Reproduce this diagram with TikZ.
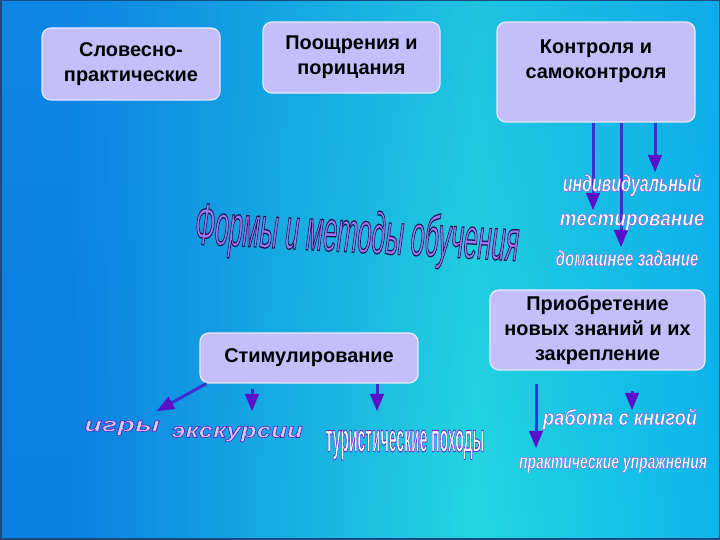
\documentclass[tikz,border=0pt]{standalone}
\usepackage{fontspec}
\setmainfont{Liberation Sans}
\usetikzlibrary{positioning,arrows.meta,fadings}

\definecolor{fonA}{HTML}{0A80E4}
\definecolor{fonB}{HTML}{24D8E0}
\definecolor{fonC}{HTML}{0CB6EC}
\definecolor{fonverh}{HTML}{1294E2}
\definecolor{ramka}{HTML}{1A4A80}
\definecolor{lavanda}{HTML}{C4BFFB}
\definecolor{liniya}{HTML}{3A30D0}
\definecolor{nakonech}{HTML}{5A10C8}
\definecolor{sirenevy}{HTML}{A074F2}
\definecolor{kraska}{HTML}{D4CCFF}

\pgfdeclarehorizontalshading{fon}{100bp}{color(0bp)=(fonA); color(25bp)=(fonA); color(30bp)=(fonA); color(58bp)=(fonB); color(75bp)=(fonC); color(100bp)=(fonC)}

% outlined letters: fill + stroke
\newcommand{\obvod}[3]{\special{pdf:literal direct 2 Tr #2 w #1 RG}#3\special{pdf:literal direct 0 Tr}}

\tikzset{
  blok/.style={draw=white!65!lavanda, line width=1.2bp, fill=lavanda, rounded corners=9bp,
    align=center, inner sep=0pt, font=\bfseries\fontsize{20}{25}\selectfont},
  strelka/.style={draw=liniya, line width=3bp,
    -{Triangle[width=14bp,length=17bp,line width=0.5bp,color=nakonech]}},
  otvet/.style={font=\bfseries\itshape\fontsize{20}{22}\selectfont, text=white}
}

\begin{document}
\begin{tikzpicture}[x=1bp,y=1bp]
    % background
    \shade[shading=fon] (0,0) rectangle (720,540);
    \fill[fonverh, path fading=south, fill opacity=0.3] (0,0) rectangle (720,540);
    \draw[ramka, line width=1.5bp] (0.75,0.75) rectangle (719.25,539.25);

    % boxes
    \node[blok, minimum width=178bp, minimum height=72bp] (slovesno) at (131,476) {Словесно-\\практические};
    \node[blok, minimum width=177bp, minimum height=71bp] (poosch) at (351.5,482.5) {Поощрения и\\порицания};
    \node[blok, minimum width=198bp, minimum height=100bp] (kontrol) at (596,468) {Контроля и\\самоконтроля\\\mbox{}};
    \node[blok, minimum width=218bp, minimum height=50bp] (stimul) at (309,182) {Стимулирование};
    \node[blok, minimum width=215bp, minimum height=80bp] (priobr) at (597.5,210) {Приобретение\\новых знаний и их\\закрепление};

    % title
    \node[rotate=-3, xscale=0.9, yscale=2.1, font=\itshape\fontsize{28}{30}\selectfont, text=sirenevy] (zagolovok) at (357,303) {\obvod{0.1 0.08 0.3}{0.6}{Формы и методы обучения}};

    % arrow ends
    \coordinate (kA) at (593,330);
    \coordinate (kB) at (621,293);
    \coordinate (kC) at (655,368);
    \coordinate (sA) at (157,129);
    \coordinate (sB) at (252,129);
    \coordinate (sC) at (377,129);
    \coordinate (pA) at (536,92);
    \coordinate (pB) at (632,130);

    % control arrows
    \draw[strelka] (kontrol.south -| kA) -- (kA);
    \draw[strelka] (kontrol.south -| kB) -- (kB);
    \draw[strelka] (kontrol.south -| kC) -- (kC);

    % stimulation arrows
    \draw[strelka] ([xshift=7bp]stimul.south west) -- (sA);
    \draw[strelka] ([yshift=-5bp]stimul.south -| sB) -- (sB);
    \draw[strelka] (stimul.south -| sC) -- (sC);

    % new knowledge arrows
    \draw[strelka] ([yshift=-13bp]priobr.south -| pA) -- (pA);
    \draw[strelka] ([yshift=-20bp]priobr.south -| pB) -- (pB);

    % labels
    \node[otvet, xscale=0.8, yscale=1.2] (individ) at (632,355) {\obvod{0.5 0.4 0.9}{0.5}{индивидуальный}};
    \node[otvet, xscale=0.95, yscale=1.1] (test) at (632,318) {\obvod{0.5 0.4 0.9}{0.5}{тестирование}};
    \node[otvet, xscale=0.76, yscale=1.1] (domash) at (627,282) {\obvod{0.5 0.4 0.9}{0.5}{домашнее задание}};
    \node[otvet, xscale=0.92, yscale=1.1] (rabota) at (620,121) {\obvod{0.5 0.4 0.9}{0.5}{работа с книгой}};
    \node[otvet, xscale=0.7, yscale=1.05] (praktika) at (613,75) {\obvod{0.5 0.4 0.9}{0.5}{практические упражнения}};
    \node[otvet, xscale=1.45, text=kraska] (igry) at (122,112) {\obvod{0.35 0.15 0.75}{0.6}{игры}};
    \node[otvet, xscale=1.3, yscale=1.05, text=kraska] (ekskursii) at (237,106) {\obvod{0.35 0.15 0.75}{0.6}{экскурсии}};
    \node[otvet, font=\bfseries\fontsize{20}{22}\selectfont, xscale=0.7, yscale=2.0] (pohody) at (405,95) {\obvod{0.4 0.2 0.8}{0.6}{туристические походы}};
\end{tikzpicture}
\end{document}
